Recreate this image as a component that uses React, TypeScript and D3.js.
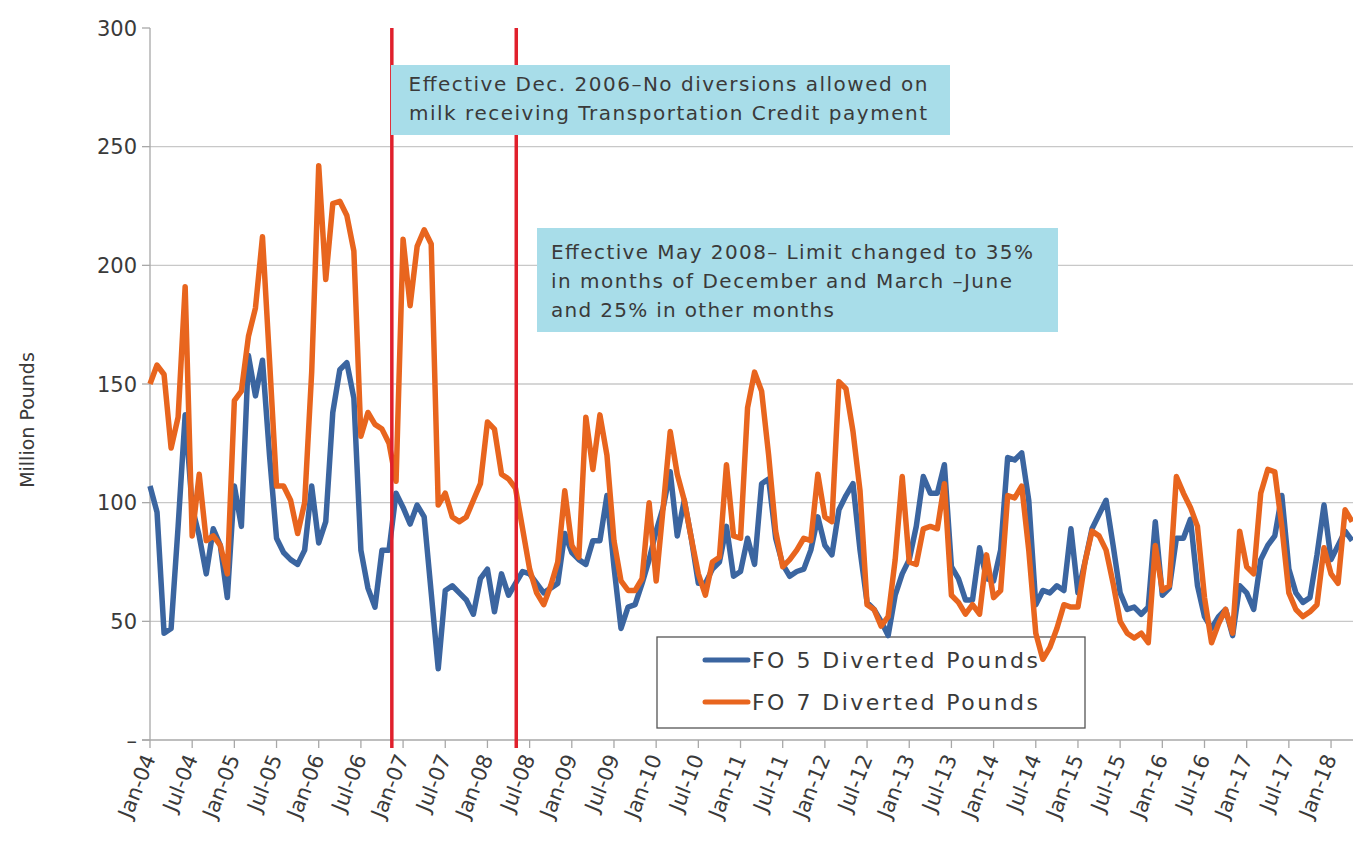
import React from 'react';
import * as d3 from 'd3';

// Monthly diverted pounds, Jan-2004 .. Apr-2018 (million pounds)
const fo5Diverted: number[] = [
  107, 96, 45, 47, 90, 137, 98, 86, 70, 89, 82, 60,
  107, 90, 162, 145, 160, 120, 85, 79, 76, 74, 80, 107,
  83, 92, 138, 156, 159, 144, 80, 64, 56, 80, 80, 104,
  98, 91, 99, 94, 62, 30, 63, 65, 62, 59, 53, 68,
  72, 54, 70, 61, 66, 71, 70, 66, 62, 64, 66, 87,
  79, 76, 74, 84, 84, 103, 73, 47, 56, 57, 66, 76,
  88, 98, 113, 86, 101, 85, 66, 66, 72, 75, 90, 69,
  71, 85, 74, 108, 110, 85, 74, 69, 71, 72, 80, 94,
  82, 78, 97, 103, 108, 80, 58, 55, 50, 44, 61, 70,
  76, 90, 111, 104, 104, 116, 73, 68, 59, 59, 81, 68,
  67, 80, 119, 118, 121, 101, 57, 63, 62, 65, 63, 89,
  62, 75, 89, 95, 101, 82, 62, 55, 56, 53, 56, 92,
  61, 64, 85, 85, 93, 65, 52, 47, 52, 55, 44, 65,
  62, 55, 76, 82, 86, 103, 72, 62, 58, 60, 78, 99,
  76, 82, 88, 84,
];

const fo7Diverted: number[] = [
  150, 158, 154, 123, 136, 191, 86, 112, 84, 86, 82, 70,
  143, 147, 170, 182, 212, 160, 107, 107, 101, 87, 100, 155,
  242, 194, 226, 227, 221, 206, 128, 138, 133, 131, 125, 109,
  211, 183, 208, 215, 209, 99, 104, 94, 92, 94, 101, 108,
  134, 131, 112, 110, 106, 89, 72, 62, 57, 65, 75, 105,
  82, 77, 136, 114, 137, 120, 84, 67, 63, 63, 68, 100,
  67, 98, 130, 112, 101, 85, 70, 61, 75, 77, 116, 86,
  85, 140, 155, 147, 120, 88, 73, 76, 80, 85, 84, 112,
  94, 92, 151, 148, 130, 105, 57, 55, 48, 52, 76, 111,
  75, 74, 89, 90, 89, 108, 61, 58, 53, 57, 53, 78,
  60, 63, 103, 102, 107, 80, 45, 34, 39, 47, 57, 56,
  56, 75, 88, 86, 80, 66, 50, 45, 43, 45, 41, 82,
  63, 65, 111, 104, 98, 90, 60, 41, 49, 55, 45, 88,
  73, 70, 104, 114, 113, 90, 62, 55, 52, 54, 57, 81,
  70, 66, 97, 92,
];

const xTickLabels: string[] = [
  'Jan-04', 'Jul-04', 'Jan-05', 'Jul-05', 'Jan-06', 'Jul-06', 'Jan-07', 'Jul-07',
  'Jan-08', 'Jul-08', 'Jan-09', 'Jul-09', 'Jan-10', 'Jul-10', 'Jan-11', 'Jul-11',
  'Jan-12', 'Jul-12', 'Jan-13', 'Jul-13', 'Jan-14', 'Jul-14', 'Jan-15', 'Jul-15',
  'Jan-16', 'Jul-16', 'Jan-17', 'Jul-17', 'Jan-18',
];
const xTickStep = 6; // months between labels

const yTickValues: number[] = [0, 50, 100, 150, 200, 250, 300];
const yTickLabels: string[] = ['–', '50', '100', '150', '200', '250', '300'];

const seriesNames: string[] = ['FO 5 Diverted Pounds', 'FO 7 Diverted Pounds'];

// Policy change markers (month index from Jan-2004)
const policyMonths: number[] = [34.4, 52.1];

const note1Lines: string[] = [
  'Effective Dec. 2006–No diversions allowed on',
  'milk receiving Transportation Credit payment',
];
const note2Lines: string[] = [
  'Effective May 2008– Limit changed to 35%',
  'in months of December and March –June',
  'and 25% in other months',
];
// rendered widths (layout)
const note1Widths = [519, 518];
const note2Widths = [482, 461, 283];

const BLUE = '#3b65a0';
const ORANGE = '#e8651e';
const RED = '#e0202c';
const NOTE_FILL = '#a8dde9';
const FONT = '"DejaVu Sans", Verdana, sans-serif';
const TEXT = '#3a3a3a';

export default function App() {
  const W = 1353;
  const H = 862;
  const left = 150;
  const top = 28;
  const bottom = 740;
  const nPts = fo5Diverted.length;

  const x = d3.scaleLinear().domain([0, nPts - 1]).range([left, left + 7.03 * (nPts - 1)]);
  const y = d3.scaleLinear().domain([0, 300]).range([bottom, top]);

  const line = d3
    .line<number>()
    .x((_, i) => x(i))
    .y((d) => y(d))
    .curve(d3.curveLinear);

  const gridVals = yTickValues.filter((v) => v > 0 && v < 300);

  return (
    <svg
      width={W}
      height={H}
      style={{ position: 'absolute', left: 0, top: 0, background: '#fff' }}
      fontFamily={FONT}
    >
      <defs>
        <clipPath id="plotClip">
          <rect x={left - 4} y={0} width={W - left + 4} height={bottom + 4} />
        </clipPath>
      </defs>

      {/* gridlines */}
      {gridVals.map((v) => (
        <line key={'g' + v} x1={left} x2={W} y1={y(v)} y2={y(v)} stroke="#c8c8c8" strokeWidth={1.3} />
      ))}

      {/* y axis */}
      <line x1={left} x2={left} y1={y(300)} y2={y(0)} stroke="#a8a8a8" strokeWidth={1.3} />
      {yTickValues.map((v, i) => (
        <g key={'yt' + v}>
          <line x1={left - 8} x2={left} y1={y(v)} y2={y(v)} stroke="#a8a8a8" strokeWidth={1.3} />
          <text
            x={left - 13}
            y={y(v)}
            dy="0.36em"
            textAnchor="end"
            fontSize={21}
            fill={TEXT}
          >
            {yTickLabels[i]}
          </text>
        </g>
      ))}
      <text
        transform={`translate(34,${(y(300) + y(0)) / 2 + 36}) rotate(-90)`}
        textAnchor="middle"
        fontSize={19}
        fill={TEXT}
      >
        Million Pounds
      </text>

      {/* x axis */}
      <line x1={left - 8} x2={W} y1={y(0)} y2={y(0)} stroke="#a8a8a8" strokeWidth={1.3} />
      {xTickLabels.map((lab, i) => {
        const xv = x(i * xTickStep);
        return (
          <g key={'xt' + lab}>
            <line x1={xv} x2={xv} y1={y(0)} y2={y(0) + 8} stroke="#a8a8a8" strokeWidth={1.3} />
            <text
              transform={`translate(${xv + 6},${y(0) + 18}) rotate(-68)`}
              textAnchor="end"
              fontSize={21}
              fill={TEXT}
            >
              {lab}
            </text>
          </g>
        );
      })}

      {/* legend (drawn beneath the series, as in the original) */}
      <rect x={657} y={637} width={428} height={91} fill="#fff" stroke="#555" strokeWidth={1.3} />
      {seriesNames.map((name, i) => (
        <g key={'lg' + i}>
          <line
            x1={705}
            x2={748}
            y1={660 + i * 42}
            y2={660 + i * 42}
            stroke={i === 0 ? BLUE : ORANGE}
            strokeWidth={5}
            strokeLinecap="round"
          />
          <text
            x={752}
            y={660 + i * 42}
            dy="0.36em"
            fontSize={22}
            fill={TEXT}
            textLength={286}
            lengthAdjust="spacing"
          >
            {name}
          </text>
        </g>
      ))}

      {/* series */}
      <g clipPath="url(#plotClip)">
        <path d={line(fo5Diverted) || ''} fill="none" stroke={BLUE} strokeWidth={5.5} strokeLinejoin="round" />
        <path d={line(fo7Diverted) || ''} fill="none" stroke={ORANGE} strokeWidth={5.5} strokeLinejoin="round" />
      </g>

      {/* policy lines */}
      {policyMonths.map((m) => (
        <line key={'p' + m} x1={x(m)} x2={x(m)} y1={y(300)} y2={y(0) + 8} stroke={RED} strokeWidth={3.5} />
      ))}

      {/* note 1 */}
      <rect x={391} y={65} width={559} height={70} fill={NOTE_FILL} />
      {note1Lines.map((t, i) => (
        <text
          key={'n1' + i}
          x={668}
          y={91 + i * 29}
          textAnchor="middle"
          fontSize={20}
          fill={TEXT}
          textLength={note1Widths[i]}
          lengthAdjust="spacing"
        >
          {t}
        </text>
      ))}

      {/* note 2 */}
      <rect x={537} y={228} width={521} height={104} fill={NOTE_FILL} />
      {note2Lines.map((t, i) => (
        <text
          key={'n2' + i}
          x={551}
          y={259 + i * 29}
          fontSize={20}
          fill={TEXT}
          textLength={note2Widths[i]}
          lengthAdjust="spacing"
        >
          {t}
        </text>
      ))}
    </svg>
  );
}
